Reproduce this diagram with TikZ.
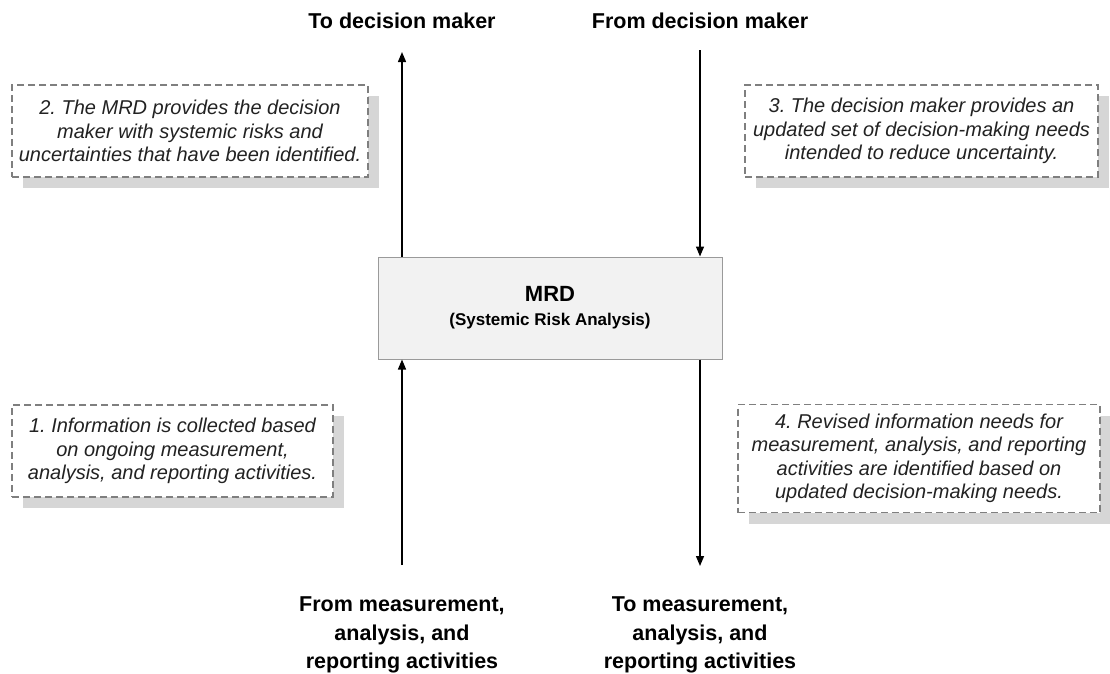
\documentclass[tikz,border=0pt]{standalone}
\usepackage{fontspec}
\setmainfont{Liberation Sans}
\usetikzlibrary{arrows.meta,shadows}
\definecolor{boxfill}{HTML}{F2F2F2}
\definecolor{boxline}{HTML}{9A9A9A}
\definecolor{dashline}{HTML}{7F7F7F}
\definecolor{shade}{HTML}{D6D6D6}
\definecolor{notetext}{HTML}{222222}
\frenchspacing
\begin{document}
\begin{tikzpicture}[x=1pt,y=-1pt,
  note/.style={draw=dashline, line width=1.2pt, dash pattern=on 7pt off 4pt, fill=white,
    align=center, inner sep=0pt, text=notetext,
    font=\fontsize{20}{23.5}\selectfont\itshape,
    drop shadow={shadow xshift=11pt, shadow yshift=-11pt, fill=shade, opacity=1}},
  biglabel/.style={align=center, inner sep=0pt, font=\fontsize{21.5}{28.5}\selectfont\bfseries},
  arr/.style={line width=1.4pt, -{Triangle[length=10pt,width=8pt]}},
  mainbox/.style={draw=boxline, line width=1pt, fill=boxfill, minimum width=344pt, minimum height=102pt, inner sep=0pt, align=center, font=\fontsize{17}{24}\selectfont\bfseries}
]
\useasboundingbox (0,0) rectangle (1110,673);

% main box
\node[mainbox] (mrd) at (550,308) {{\fontsize{22}{24}\selectfont MRD}\\(Systemic Risk Analysis)};

% labels
\node[font=\fontsize{21.5}{26}\selectfont\bfseries, inner sep=0pt, anchor=base] (todm) at (402,28) {To decision maker};
\node[font=\fontsize{21.5}{26}\selectfont\bfseries, inner sep=0pt, anchor=base] (fromdm) at (700,28) {From decision maker};
\node[biglabel] (frommar) at (402,635) {From measurement,\\analysis, and\\reporting activities};
\node[biglabel] (tomar) at (700,635) {To measurement,\\analysis, and\\reporting activities};

% arrow ends
\coordinate (tl) at (402,52);
\coordinate (tr) at (700,50);
\coordinate (bl) at (402,565);
\coordinate (br) at (700,566);

\draw[arr] (mrd.north -| tl) -- (tl);
\draw[arr] (tr) -- (mrd.north -| tr);
\draw[arr] (bl) -- (mrd.south -| bl);
\draw[arr] (mrd.south -| br) -- (br);

% notes
\node[note, minimum width=356pt, minimum height=92pt] (n2) at (190,131)
  {2. The MRD provides the decision\\maker with systemic risks and\\uncertainties that have been identified.};
\node[note, minimum width=353pt, minimum height=92pt] (n3) at (921.5,131)
  {3. The decision maker provides an\\updated set of decision-making needs\\intended to reduce uncertainty.};
\node[note, minimum width=321pt, minimum height=92pt] (n1) at (172.5,451)
  {1. Information is collected based\\on ongoing measurement,\\analysis, and reporting activities.};
\node[note, minimum width=362pt, minimum height=108pt] (n4) at (919,458.5)
  {4. Revised information needs for\\measurement, analysis, and reporting\\activities are identified based on\\updated decision-making needs.};
\end{tikzpicture}
\end{document}
